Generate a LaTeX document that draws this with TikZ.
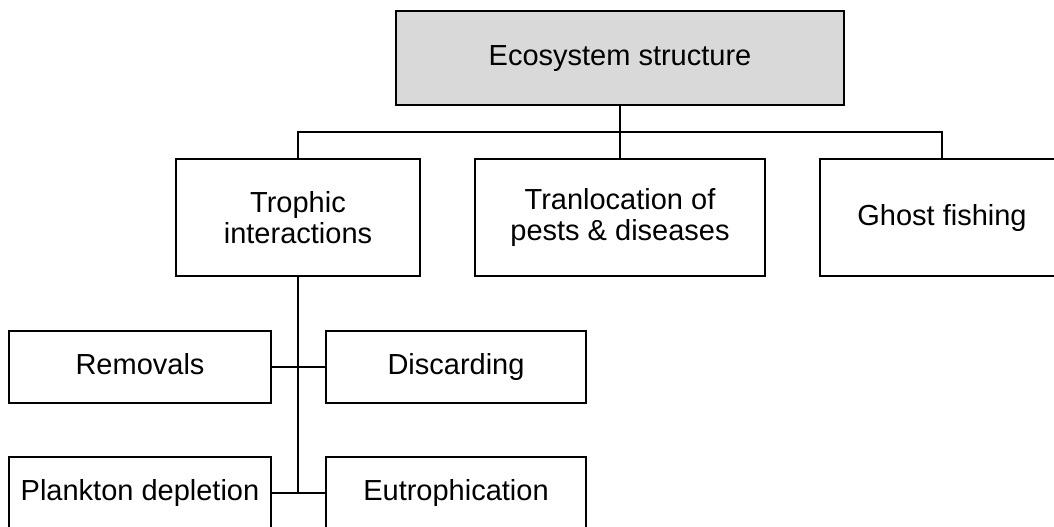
\documentclass[tikz,border=0pt]{standalone}
\usepackage{fontspec}
\setmainfont{Liberation Sans}
\usepackage{tikz}
\usetikzlibrary{positioning}

\definecolor{boxgray}{RGB}{217,217,217}

\begin{document}
\begin{tikzpicture}[x = 1pt, y = -1pt, line width = 1.6pt,
    box/.style = {draw, shape = rectangle, inner sep = 0pt, align = center,
      font = \fontsize{29}{31}\selectfont},
    oneline/.style = {text height = 21pt, text depth = 6pt}]
    \useasboundingbox (0,0) rectangle (1054,527);
    \node at (620,58) [box, oneline, fill = boxgray, minimum width = 448pt, minimum height = 94pt] (eco) {Ecosystem structure};
    \node at (298,217.5) [box, minimum width = 244pt, minimum height = 117pt] (troph) {Trophic\\interactions};
    \node at (620,217.5) [box, minimum width = 290pt, minimum height = 117pt] (transl) {Tranlocation of\\pests \& diseases};
    \node at (942,217.5) [box, oneline, minimum width = 244pt, minimum height = 117pt] (ghost) {Ghost fishing};
    \node at (140,367) [box, oneline, minimum width = 262pt, minimum height = 72pt] (remov) {Removals};
    \node at (456,367) [box, oneline, minimum width = 260pt, minimum height = 72pt] (disc) {Discarding};
    \node at (140,493) [box, oneline, minimum width = 262pt, minimum height = 72pt] (plank) {Plankton depletion};
    \node at (456,493) [box, oneline, minimum width = 260pt, minimum height = 72pt] (eutro) {Eutrophication};
    \coordinate (bus) at (620,132);
    \draw (eco.south) -- (bus);
    \draw (troph.north) |- (bus) -| (ghost.north);
    \draw (bus) -- (transl.north);
    \draw (troph.south) -- (troph.south |- plank.east);
    \draw (remov.east) -- (disc.west);
    \draw (plank.east) -- (eutro.west);
  \end{tikzpicture}
\end{document}
